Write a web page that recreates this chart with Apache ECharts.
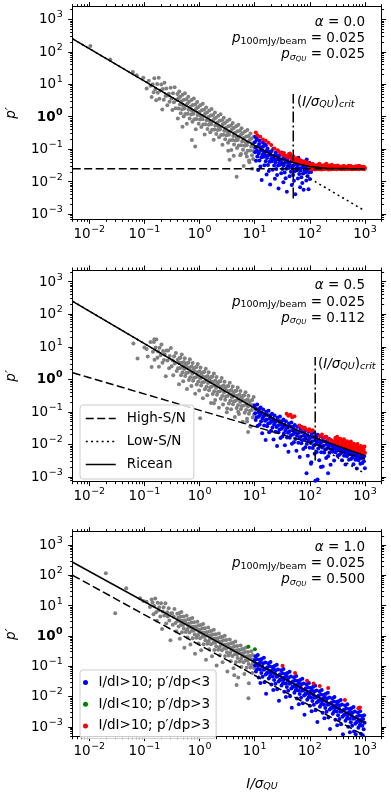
<!DOCTYPE html>
<html><head><meta charset="utf-8">
<script src="https://cdn.jsdelivr.net/npm/echarts@6/dist/echarts.min.js"></script>
<style>html,body{margin:0;padding:0;background:#fff}#c{width:391px;height:799px}</style>
</head><body><div id="c"></div><script>
// ================= DATA =================
const xTickExps = [-2,-1,0,1,2,3];
const yTickExps = [-3,-2,-1,0,1,2,3];
const alphaText = ['0.0','0.5','1.0'];
const pRefText = ['0.025','0.025','0.025'];
const pSigText = ['0.025','0.112','0.500'];
const legendLines = ['High-S/N','Low-S/N','Ricean'];
const legendPts = ['I/dI>10; p′/dp<3','I/dI<10; p′/dp>3','I/dI>10; p′/dp>3'];

// model curves: [I/sigma_QU, p']
const p1Ricean = [[0.005,250],[0.01,125],[0.1,12.5],[1,1.25],[3,0.42],[10,0.13],[20,0.068],[30,0.05],[50,0.039],[70,0.033],[100,0.029],[150,0.027],[200,0.026],[500,0.0252],[1000,0.025]];
const p1High = [[0.005,0.025],[1000,0.025]];
const p1Low = [[0.005,250],[1000,0.00125]];
const p1Crit = [[50,0.003],[50,5]];
const p2Ricean = [[0.005,250],[0.1,12.5],[1,1.25],[3,0.42],[10,0.13],[20,0.068],[30,0.047],[50,0.031],[100,0.0185],[200,0.0118],[300,0.0093],[500,0.0068],[1000,0.0045]];
const p2High = [[0.005,1.58],[1000,0.00354]];
const p2Low = [[0.005,250],[1000,0.00125]];
const p2Crit = [[125,0.0032],[125,4.8]];
const p3Ricean = [[0.005,270],[1000,0.00135]];
const p3High = [[0.005,100],[1000,0.0005]];

// scatter points: [log10(I/sigma_QU), log10(p')]
const p1GrayLog = [
[-1.98,2.18],[-1.62,1.76],[-1.21,1.38],[-1.14,1.28],[-1.02,1.2],[-0.96,0.87],[-0.92,1.11],[-0.87,0.61],[-0.89,0.95],
[-0.85,0.997],[-0.833,0.75],[-0.821,1.188],[-0.801,0.848],[-0.787,0.504],[-0.769,1.006],[-0.758,0.735],[-0.741,1.198],[-0.729,0.556],[-0.709,0.806],
[-0.695,0.992],[-0.677,0.224],[-0.666,0.853],[-0.649,0.526],[-0.637,1.044],[-0.617,0.634],[-0.603,0.87],[-0.585,0.352],[-0.574,0.651],[-0.557,0.704],
[-0.545,0.462],[-0.525,0.892],[-0.511,0.558],[-0.493,0.21],[-0.482,0.719],[-0.465,0.442],[-0.453,0.91],[-0.433,0.26],[-0.419,0.516],[-0.401,0.698],
[-0.395,-0.058],[-0.384,0.571],[-0.377,0.254],[-0.368,0.775],[-0.356,0.373],[-0.351,0.618],[-0.341,0.108],[-0.333,0.41],[-0.327,0.474],[-0.316,0.233],
[-0.309,0.676],[-0.3,0.347],[-0.288,0.005],[-0.283,0.52],[-0.273,0.25],[-0.265,0.722],[-0.259,0.086],[-0.248,0.345],[-0.241,0.538],[-0.232,-0.221],
[-0.22,0.407],[-0.215,0.092],[-0.205,0.612],[-0.197,0.214],[-0.191,0.458],[-0.18,-0.053],[-0.173,0.25],[-0.164,0.311],[-0.152,0.069],[-0.147,0.514],
[-0.137,0.184],[-0.129,-0.154],[-0.123,0.36],[-0.112,0.089],[-0.105,0.562],[-0.096,-0.077],[-0.084,0.181],[-0.079,0.376],[-0.069,-0.384],[-0.061,0.248],
[-0.055,-0.068],[-0.044,0.451],[-0.037,0.054],[-0.028,0.295],[-0.016,-0.217],[-0.011,0.088],[-0.001,0.148],[0.007,-0.09],[0.013,0.354],[0.024,0.023],
[0.031,-0.314],[0.04,0.197],[0.052,-0.075],[0.057,0.4],[0.067,-0.24],[0.075,0.022],[0.081,0.216],[0.092,-0.545],[0.099,0.088],[0.108,-0.231],
[0.12,0.287],[0.125,-0.108],[0.135,0.132],[0.143,-0.376],[0.149,-0.072],[0.16,-0.013],[0.167,-0.25],[0.176,0.191],[0.188,-0.141],[0.193,-0.476],
[0.203,0.034],[0.211,-0.234],[0.217,0.24],[0.228,-0.401],[0.235,-0.138],[0.244,0.053],[0.256,-0.709],[0.261,-0.074],[0.271,-0.394],[0.279,0.128],
[0.285,-0.268],[0.296,-0.029],[0.303,-0.536],[0.312,-0.235],[0.324,-0.177],[0.329,-0.412],[0.339,0.028],[0.347,-0.3],[0.353,-0.636],[0.364,-0.127],
[0.371,-0.394],[0.38,0.077],[0.392,-0.565],[0.397,-0.3],[0.407,-0.11],[0.415,-0.868],[0.421,-0.234],[0.432,-0.555],[0.439,-0.032],[0.448,-0.431],
[0.46,-0.193],[0.465,-0.698],[0.475,-0.398],[0.483,-0.336],[0.489,-0.572],[0.5,-0.133],[0.507,-0.46],[0.516,-0.799],[0.528,-0.291],[0.533,-0.556],
[0.543,-0.086],[0.551,-0.724],[0.557,-0.46],[0.568,-0.271],[0.575,-1.028],[0.584,-0.397],[0.596,-0.719],[0.601,-0.194],[0.611,-0.594],[0.619,-0.352],
[0.625,-0.858],[0.636,-0.559],[0.643,-0.496],[0.652,-0.735],[0.664,-0.297],[0.669,-0.622],[0.679,-0.962],[0.687,-0.45],[0.693,-0.716],[0.704,-0.247],
[0.711,-0.884],[0.72,-0.623],[0.732,-0.435],[0.737,-1.19],[0.747,-0.56],[0.755,-0.878],[0.761,-0.354],[0.772,-0.755],[0.779,-0.512],[0.788,-1.021],
[0.8,-0.723],[0.805,-0.658],[0.815,-0.898],[0.823,-0.456],[0.829,-0.782],[0.84,-1.123],[0.847,-0.61],[0.856,-0.879],[0.868,-0.411],[0.873,-1.046],
[0.883,-0.786],[0.891,-0.594],[0.897,-1.35],[0.908,-0.721],[0.915,-1.038],[0.924,-0.517],[0.936,-0.919],[0.941,-0.674],[0.951,-1.184],[0.959,-0.882],
[0.965,-0.818],[0.976,-1.059],[0.983,-0.616],[0.992,-0.945],
[-0.31,-0.31],[-0.14,-0.72],[-0.08,-0.92],[0.544,-1.33],[0.672,-1.85],[0.8,-1.52],[0.857,-1.23],[0.903,-1.4],[0.954,-1.6],[0.52,-1.05],[0.75,-1.15],[0.97,-1.3],[0.62,-1.2]
];
const p1BlueLog = [
[1,-0.786],[1.006,-1.092],[1.016,-0.951],[1.023,-1.358],[1.032,-0.716],[1.04,-1.044],[1.046,-1.229],[1.056,-0.919],[1.063,-1.645],[1.072,-1.134],
[1.08,-0.841],[1.086,-1.347],[1.096,-1.056],[1.103,-1.533],[1.112,-0.941],[1.12,-1.248],[1.126,-1.953],[1.136,-1.032],[1.143,-1.169],[1.152,-0.927],
[1.16,-1.234],[1.166,-1.089],[1.176,-1.498],[1.183,-0.855],[1.192,-1.183],[1.2,-1.37],[1.206,-1.055],[1.216,-1.784],[1.223,-1.271],[1.232,-0.979],
[1.24,-1.486],[1.246,-1.191],[1.256,-1.67],[1.263,-1.077],[1.272,-1.385],[1.28,-2.092],[1.286,-1.167],[1.296,-1.306],[1.303,-1.062],[1.312,-1.37],
[1.32,-1.226],[1.326,-1.631],[1.336,-0.989],[1.343,-1.314],[1.352,-1.502],[1.36,-1.188],[1.366,-1.913],[1.376,-1.401],[1.383,-1.106],[1.392,-1.614],
[1.4,-1.32],[1.406,-1.794],[1.416,-1.201],[1.423,-1.506],[1.432,-2.212],[1.44,-1.288],[1.446,-1.422],[1.456,-1.179],[1.463,-1.484],[1.472,-1.34],
[1.48,-1.746],[1.486,-1.1],[1.496,-1.427],[1.503,-1.612],[1.512,-1.297],[1.52,-2.022],[1.526,-1.506],[1.536,-1.212],[1.543,-1.716],[1.552,-1.421],
[1.56,-1.896],[1.566,-1.3],[1.576,-1.606],[1.583,-2.31],[1.592,-1.385],[1.6,-1.52],[1.606,-1.273],[1.616,-1.578],[1.623,-1.432],[1.632,-1.836],
[1.64,-1.19],[1.646,-1.513],[1.656,-1.698],[1.663,-1.382],[1.672,-2.106],[1.68,-1.59],[1.686,-1.293],[1.696,-1.798],[1.703,-1.501],[1.712,-1.975],
[1.72,-1.379],[1.726,-1.682],[1.736,-2.386],[1.743,-1.459],[1.752,-1.593],[1.76,-1.347],[1.766,-1.65],[1.776,-1.504],[1.783,-1.907],[1.792,-1.261],
[1.8,-1.585],[1.806,-1.767],[1.816,-1.451],[1.823,-2.174],[1.832,-1.658],[1.84,-1.361],[1.846,-1.863],[1.856,-1.567],[1.863,-2.04],[1.872,-1.444],
[1.88,-1.747],[1.886,-2.25],[1.896,-1.523],[1.903,-1.656],[1.912,-1.409],[1.92,-1.712],[1.926,-1.564],[1.936,-1.968],[1.943,-1.32],[1.952,-1.643],
[1.96,-1.826],[1.966,-1.508],[1.976,-2.232],[1.983,-1.714],[1.992,-1.417],[2,-1.92],[2.01,-1.622],[2.022,-1.7],
[1.01,-0.62],[1.04,-0.66],[1.09,-0.74],[1.15,-0.8],[1.2,-0.88]
];
const p1RedLog = [
[1.02,-0.49],[1.05,-0.57],[1.1,-0.62],[1.15,-0.7],[1.2,-0.74],[1.25,-0.8],[1.3,-0.87],[1.36,-0.98],[1.42,-1.03],[1.46,-1.1],[1.5,-1.17],
[1.53,-1.12],[1.56,-1.2],[1.6,-1.25],[1.62,-1.15],[1.64,-1.13],[1.66,-1.27],[1.68,-1.3],[1.7,-1.22],[1.72,-1.33],[1.74,-1.36],[1.76,-1.28],
[1.78,-1.3],[1.8,-1.4],[1.82,-1.34],[1.83,-1.35],[1.86,-1.44],[1.88,-1.38],[1.9,-1.38],[1.93,-1.47],[1.95,-1.4],[1.96,-1.42],[1.98,-1.45],
[2,-1.55],[2.011,-1.62],[2.025,-1.48],[2.034,-1.58],[2.05,-1.45],[2.062,-1.6],[2.073,-1.52],[2.087,-1.63],[2.096,-1.5],[2.112,-1.57],
[2.124,-1.55],[2.135,-1.62],[2.149,-1.48],[2.158,-1.58],[2.174,-1.45],[2.186,-1.6],[2.197,-1.52],[2.211,-1.63],[2.22,-1.5],[2.236,-1.57],
[2.248,-1.55],[2.259,-1.62],[2.273,-1.48],[2.282,-1.58],[2.298,-1.45],[2.31,-1.6],[2.321,-1.52],[2.335,-1.63],[2.344,-1.5],[2.36,-1.57],
[2.372,-1.55],[2.383,-1.62],[2.397,-1.48],[2.406,-1.57],[2.422,-1.61],[2.434,-1.54],[2.445,-1.6],[2.459,-1.58],[2.468,-1.52],[2.484,-1.62],
[2.496,-1.56],[2.507,-1.59],[2.521,-1.55],[2.53,-1.6],[2.546,-1.57],[2.558,-1.61],[2.569,-1.54],[2.583,-1.6],[2.592,-1.58],[2.608,-1.52],
[2.62,-1.62],[2.631,-1.56],[2.645,-1.59],[2.654,-1.55],[2.67,-1.6],[2.682,-1.57],[2.693,-1.61],[2.707,-1.54],[2.716,-1.6],[2.732,-1.58],
[2.744,-1.52],[2.755,-1.62],[2.769,-1.56],[2.778,-1.59],[2.794,-1.55],[2.806,-1.6],[2.817,-1.57],[2.831,-1.61],[2.84,-1.54],[2.856,-1.6],
[2.868,-1.58],[2.879,-1.52],[2.893,-1.62],[2.902,-1.56],[2.918,-1.59],[2.93,-1.55],[2.941,-1.6],[2.955,-1.57],[2.964,-1.61],[2.98,-1.54],
[2.992,-1.6],[3,-1.58],
[2.005,-1.59],[2.03,-1.53],[2.055,-1.61],[2.08,-1.56],[2.105,-1.5],[2.13,-1.58],[2.155,-1.54],[2.18,-1.62],[2.205,-1.59],[2.23,-1.53],
[2.255,-1.61],[2.28,-1.56],[2.305,-1.5],[2.33,-1.58],[2.355,-1.54],[2.38,-1.62],[2.405,-1.59],[2.43,-1.53],[2.455,-1.61],[2.48,-1.56],
[2.505,-1.5],[2.53,-1.58],[2.555,-1.54],[2.58,-1.62],[2.605,-1.59],[2.63,-1.53],[2.655,-1.61],[2.68,-1.56],[2.705,-1.51],[2.73,-1.58],
[2.755,-1.54],[2.78,-1.62],[2.805,-1.59],[2.83,-1.53],[2.855,-1.61],[2.88,-1.56],[2.905,-1.52],[2.93,-1.58],[2.955,-1.54],[2.98,-1.62]
];

const p2GrayLog = [
[-1.2,1.1],[-1.125,0.64],[-1.0,0.98],[-0.96,0.93],[-0.94,0.7],[-0.89,1.15],[-0.87,0.38],[-0.82,1.23],
[-0.846,0.843],[-0.829,1.146],[-0.817,0.604],[-0.797,0.974],[-0.783,1.22],[-0.765,0.662],[-0.754,0.851],[-0.737,0.384],[-0.725,0.972],[-0.705,0.742],
[-0.691,1.068],[-0.673,0.51],[-0.662,0.869],[-0.645,0.592],[-0.633,0.77],[-0.613,0.09],[-0.599,0.886],[-0.581,0.578],[-0.57,0.887],[-0.553,0.34],
[-0.541,0.718],[-0.521,0.958],[-0.507,0.404],[-0.489,0.586],[-0.478,0.125],[-0.461,0.708],[-0.449,0.486],[-0.429,0.806],[-0.415,0.252],[-0.397,0.604],
[-0.391,0.338],[-0.38,0.517],[-0.373,-0.15],[-0.364,0.651],[-0.352,0.349],[-0.347,0.664],[-0.337,0.124],[-0.329,0.506],[-0.323,0.76],[-0.312,0.209],
[-0.305,0.402],[-0.296,-0.057],[-0.284,0.531],[-0.279,0.316],[-0.269,0.646],[-0.261,0.098],[-0.255,0.462],[-0.244,0.191],[-0.237,0.374],[-0.228,-0.295],
[-0.216,0.503],[-0.211,0.208],[-0.201,0.518],[-0.193,-0.02],[-0.187,0.364],[-0.176,0.613],[-0.169,0.066],[-0.16,0.257],[-0.148,-0.205],[-0.143,0.39],
[-0.133,0.17],[-0.125,0.502],[-0.119,-0.044],[-0.108,0.315],[-0.101,0.048],[-0.092,0.229],[-0.08,-0.443],[-0.075,0.362],[-0.065,0.062],[-0.057,0.374],
[-0.051,-0.162],[-0.04,0.217],[-0.033,0.47],[-0.024,-0.079],[-0.012,0.109],[-0.007,-0.346],[0.003,0.244],[0.011,0.026],[0.017,0.36],[0.028,-0.191],
[0.035,0.172],[0.044,-0.097],[0.056,0.081],[0.061,-0.584],[0.071,0.216],[0.079,-0.082],[0.085,0.232],[0.096,-0.309],[0.103,0.074],[0.112,0.325],
[0.124,-0.227],[0.129,-0.032],[0.139,-0.492],[0.147,0.1],[0.153,-0.116],[0.164,0.213],[0.171,-0.334],[0.18,0.027],[0.192,-0.245],[0.197,-0.06],
[0.207,-0.73],[0.215,0.072],[0.221,-0.224],[0.232,0.085],[0.239,-0.452],[0.248,-0.071],[0.26,0.177],[0.265,-0.368],[0.275,-0.178],[0.283,-0.636],
[0.289,-0.042],[0.3,-0.263],[0.307,0.07],[0.316,-0.479],[0.328,-0.121],[0.333,-0.386],[0.343,-0.206],[0.351,-0.874],[0.357,-0.07],[0.368,-0.371],
[0.375,-0.058],[0.384,-0.597],[0.396,-0.219],[0.401,0.036],[0.411,-0.514],[0.419,-0.322],[0.425,-0.778],[0.436,-0.189],[0.443,-0.406],[0.452,-0.075],
[0.464,-0.627],[0.469,-0.262],[0.479,-0.532],[0.487,-0.35],[0.493,-1.016],[0.504,-0.217],[0.511,-0.514],[0.52,-0.203],[0.532,-0.745],[0.537,-0.36],
[0.547,-0.11],[0.555,-0.658],[0.561,-0.464],[0.572,-0.925],[0.579,-0.332],[0.588,-0.551],[0.6,-0.223],[0.605,-0.768],[0.615,-0.408],[0.623,-0.676],
[0.629,-0.492],[0.64,-1.163],[0.647,-0.36],[0.656,-0.659],[0.668,-0.351],[0.673,-0.886],[0.683,-0.506],[0.691,-0.254],[0.697,-0.8],[0.708,-0.611],
[0.715,-1.068],[0.724,-0.477],[0.736,-0.699],[0.741,-0.364],[0.751,-0.914],[0.759,-0.552],[0.765,-0.818],[0.776,-0.639],[0.783,-1.306],[0.792,-0.505],
[0.804,-0.807],[0.809,-0.492],[0.819,-1.032],[0.827,-0.65],[0.833,-0.396],[0.844,-0.947],[0.851,-0.754],[0.86,-1.213],[0.872,-0.625],[0.877,-0.84],
[0.887,-0.51],[0.895,-1.058],[0.901,-0.694],[0.912,-0.965],[0.919,-0.782],[0.928,-1.451],[0.94,-0.653],[0.945,-0.948],[0.955,-0.638],[0.963,-1.176],
[0.969,-0.792],[0.98,-0.543],[0.987,-1.09],[0.996,-0.899],
[0.01,-1.2],[0.88,-1.62],[0.86,-1.3],[0.92,-1.45],[0.5,-0.9],[0.26,-0.74],[0.7,-1.0]
];
const p2BlueLog = [
[1,-0.806],[1.007,-1.043],[1.018,-1.253],[1.026,-0.91],[1.036,-1.17],[1.045,-0.778],[1.052,-1.435],[1.063,-1.025],[1.071,-1.153],[1.081,-0.912],
[1.09,-1.391],[1.097,-1.097],[1.108,-0.867],[1.116,-1.294],[1.126,-1.033],[1.135,-1.662],[1.142,-1.198],[1.153,-0.928],[1.161,-1.135],[1.171,-1.424],
[1.18,-1.102],[1.187,-1.278],[1.198,-1.868],[1.206,-0.996],[1.216,-1.235],[1.225,-1.444],[1.232,-1.1],[1.243,-1.361],[1.251,-0.968],[1.261,-1.628],
[1.27,-1.217],[1.277,-1.343],[1.288,-1.104],[1.296,-1.581],[1.306,-1.29],[1.315,-1.058],[1.322,-1.484],[1.333,-1.223],[1.341,-1.85],[1.351,-1.388],
[1.36,-1.116],[1.367,-1.322],[1.378,-1.611],[1.386,-1.288],[1.396,-1.467],[1.405,-2.054],[1.412,-1.18],[1.423,-1.42],[1.431,-1.626],[1.441,-1.285],
[1.45,-1.543],[1.457,-1.148],[1.468,-1.808],[1.476,-1.395],[1.486,-1.523],[1.495,-1.281],[1.502,-1.757],[1.513,-1.466],[1.521,-1.233],[1.531,-1.661],
[1.54,-1.399],[1.547,-2.025],[1.558,-1.564],[1.566,-1.291],[1.576,-1.5],[1.585,-1.787],[1.592,-1.463],[1.603,-1.643],[1.611,-2.229],[1.621,-1.358],
[1.63,-1.596],[1.637,-1.801],[1.648,-1.461],[1.656,-1.718],[1.666,-1.326],[1.675,-1.984],[1.682,-1.57],[1.693,-1.699],[1.701,-1.456],[1.711,-1.933],
[1.72,-1.64],[1.727,-1.405],[1.738,-1.834],[1.746,-1.57],[1.756,-2.197],[1.765,-1.734],[1.772,-1.459],[1.783,-1.667],[1.791,-1.953],[1.801,-1.631],
[1.81,-1.808],[1.817,-2.393],[1.828,-1.521],[1.836,-1.757],[1.846,-1.965],[1.855,-1.621],[1.862,-1.877],[1.873,-1.485],[1.881,-2.141],[1.891,-1.728],
[1.9,-1.855],[1.907,-1.61],[1.918,-2.089],[1.926,-1.795],[1.936,-1.562],[1.945,-1.989],[1.952,-1.724],[1.963,-2.352],[1.971,-1.888],[1.981,-1.616],
[1.99,-1.823],[1.997,-2.108],[2.008,-1.785],[2.016,-1.961],[2.026,-2.547],[2.035,-1.673],[2.042,-1.908],[2.053,-2.116],[2.061,-1.771],[2.071,-2.028],
[2.08,-1.634],[2.087,-2.288],[2.098,-1.876],[2.106,-2.001],[2.116,-1.757],[2.125,-2.233],[2.132,-1.937],[2.143,-1.704],[2.151,-2.129],[2.161,-1.865],
[2.17,-2.491],[2.177,-2.025],[2.188,-1.752],[2.196,-1.957],[2.206,-2.244],[2.215,-1.92],[2.222,-2.094],[2.233,-2.681],[2.241,-1.807],[2.251,-2.043],
[2.26,-2.249],[2.267,-1.904],[2.278,-2.161],[2.286,-1.766],[2.296,-2.422],[2.305,-2.008],[2.312,-2.133],[2.323,-1.89],[2.331,-2.365],[2.341,-2.072],
[2.35,-1.838],[2.357,-2.262],[2.368,-1.999],[2.376,-2.624],[2.386,-2.161],[2.395,-1.887],[2.402,-2.051],[2.413,-2.228],[2.421,-2.033],[2.431,-2.139],
[2.44,-2.494],[2.447,-1.968],[2.458,-2.115],[2.466,-2.24],[2.476,-2.036],[2.485,-2.191],[2.492,-1.955],[2.503,-2.352],[2.511,-2.107],[2.521,-2.183],
[2.53,-2.038],[2.537,-2.322],[2.548,-2.149],[2.556,-2.014],[2.566,-2.27],[2.575,-2.115],[2.582,-2.489],[2.593,-2.216],[2.601,-2.051],[2.611,-2.177],
[2.62,-2.352],[2.627,-2.156],[2.638,-2.263],[2.646,-2.618],[2.656,-2.094],[2.665,-2.239],[2.672,-2.363],[2.683,-2.16],[2.691,-2.315],[2.701,-2.081],
[2.71,-2.476],[2.717,-2.23],[2.728,-2.307],[2.736,-2.162],[2.746,-2.448],[2.755,-2.273],[2.762,-2.137],[2.773,-2.394],[2.781,-2.239],[2.791,-2.615],
[2.8,-2.34],[2.807,-2.174],[2.818,-2.301],[2.826,-2.476],[2.836,-2.282],[2.845,-2.387],[2.852,-2.741],[2.863,-2.218],[2.871,-2.363],[2.881,-2.489],
[2.89,-2.284],[2.897,-2.438],[2.908,-2.205],[2.916,-2.6],[2.926,-2.356],[2.935,-2.431],[2.942,-2.285],[2.953,-2.572],[2.961,-2.397],[2.971,-2.263],
[2.98,-2.518],[2.987,-2.362],[2.998,-2.739],
[1.94,-2.89],[2.1,-3.12],[2.14,-3.08],[2.33,-2.89],[2.2,-2.7],[2.02,-2.6]
];
const p2RedLog = [
[1.58,-1.06],[1.61,-1.12],[1.65,-1.09],[1.68,-1.17],[1.72,-1.14],[1.81,-1.42],[1.85,-1.47],[1.88,-1.52],[1.91,-1.49],[1.95,-1.57],
[1.99,-1.54],[2.02,-1.6],[2.05,-1.57],[2.18,-1.74],[2.22,-1.7],[2.26,-1.8],[2.3,-1.77],[2.34,-1.85],[2.38,-1.87],[2.41,-1.92],
[2.45,-1.9],[2.461,-1.807],[2.474,-1.974],[2.483,-1.87],[2.495,-1.767],[2.506,-1.964],[2.519,-1.921],[2.528,-1.867],[2.54,-2.034],[2.551,-1.831],
[2.564,-1.988],[2.573,-1.974],[2.585,-1.881],[2.596,-2.048],[2.609,-1.945],[2.618,-1.841],[2.63,-2.038],[2.641,-1.995],[2.654,-1.942],[2.663,-2.108],
[2.675,-1.905],[2.686,-2.062],[2.699,-2.049],[2.708,-1.955],[2.72,-2.122],[2.731,-2.019],[2.744,-1.916],[2.753,-2.112],[2.765,-2.069],[2.776,-2.016],
[2.789,-2.183],[2.798,-1.979],[2.81,-2.136],[2.821,-2.123],[2.834,-2.03],[2.843,-2.196],[2.855,-2.093],[2.866,-1.99],[2.879,-2.187],[2.888,-2.143],
[2.9,-2.09],[2.911,-2.257],[2.924,-2.054],[2.933,-2.21],[2.945,-2.197],[2.956,-2.104],[2.969,-2.271],[2.978,-2.167],[2.99,-2.064],[3,-2.26]
];

const p3GrayLog = [
[-1.7,2.07],[-1.53,0.75],[-1.33,1.57],[-1.08,1.24],[-1.02,1.15],[-0.96,1.13],[-0.9,0.95],[-0.87,1.2],
[-0.853,1.103],[-0.836,0.716],[-0.824,0.984],[-0.804,1.234],[-0.79,0.78],[-0.772,0.502],[-0.761,1.091],[-0.744,0.844],[-0.732,0.942],[-0.712,0.642],
[-0.698,1.078],[-0.68,0.23],[-0.669,0.809],[-0.652,0.942],[-0.64,0.67],[-0.62,1.08],[-0.606,0.406],[-0.588,0.778],[-0.577,0.637],[-0.56,0.91],
[-0.548,0.508],[-0.528,-0.142],[-0.514,0.744],[-0.496,0.746],[-0.485,0.365],[-0.468,0.628],[-0.456,0.886],[-0.436,0.426],[-0.422,0.152],[-0.404,0.734],
[-0.398,0.498],[-0.387,0.597],[-0.38,0.31],[-0.371,0.751],[-0.359,-0.091],[-0.354,0.494],[-0.344,0.634],[-0.336,0.366],[-0.33,0.79],[-0.319,0.119],
[-0.312,0.502],[-0.303,0.363],[-0.291,0.641],[-0.286,0.246],[-0.276,-0.394],[-0.268,0.498],[-0.262,0.512],[-0.251,0.131],[-0.244,0.404],[-0.235,0.665],
[-0.223,0.213],[-0.218,-0.052],[-0.208,0.538],[-0.2,0.3],[-0.194,0.404],[-0.183,0.113],[-0.176,0.556],[-0.167,-0.283],[-0.155,0.295],[-0.15,0.44],
[-0.14,0.17],[-0.132,0.592],[-0.126,-0.074],[-0.115,0.305],[-0.108,0.168],[-0.099,0.449],[-0.087,0.047],[-0.082,-0.588],[-0.072,0.302],[-0.064,0.314],
[-0.058,-0.062],[-0.047,0.207],[-0.04,0.47],[-0.031,0.021],[-0.019,-0.251],[-0.014,0.344],[-0.004,0.104],[0.004,0.206],[0.01,-0.08],[0.021,0.359],
[0.028,-0.478],[0.037,0.103],[0.049,0.241],[0.054,-0.024],[0.064,0.396],[0.072,-0.272],[0.078,0.112],[0.089,-0.029],[0.096,0.254],[0.105,-0.145],
[0.117,-0.787],[0.122,0.108],[0.132,0.118],[0.14,-0.26],[0.146,0.014],[0.157,0.273],[0.164,-0.174],[0.173,-0.443],[0.185,0.145],[0.19,-0.09],
[0.2,0.01],[0.208,-0.278],[0.214,0.166],[0.225,-0.675],[0.232,-0.092],[0.241,0.049],[0.253,-0.223],[0.258,0.202],[0.268,-0.468],[0.276,-0.086],
[0.282,-0.222],[0.293,0.057],[0.3,-0.34],[0.309,-0.979],[0.321,-0.091],[0.326,-0.076],[0.336,-0.456],[0.344,-0.184],[0.35,0.08],[0.361,-0.371],
[0.368,-0.638],[0.377,-0.047],[0.389,-0.289],[0.394,-0.184],[0.404,-0.474],[0.412,-0.032],[0.418,-0.868],[0.429,-0.289],[0.436,-0.146],[0.445,-0.415],
[0.457,0.003],[0.462,-0.662],[0.472,-0.282],[0.48,-0.42],[0.486,-0.136],[0.497,-0.537],[0.504,-1.174],[0.513,-0.283],[0.525,-0.275],[0.53,-0.65],
[0.54,-0.38],[0.548,-0.118],[0.554,-0.564],[0.565,-0.835],[0.572,-0.242],[0.581,-0.481],[0.593,-0.383],[0.598,-0.668],[0.608,-0.228],[0.616,-1.066],
[0.622,-0.482],[0.633,-0.343],[0.64,-0.61],[0.649,-0.189],[0.661,-0.861],[0.666,-0.476],[0.676,-0.616],[0.684,-0.334],[0.69,-0.73],[0.701,-1.371],
[0.708,-0.478],[0.717,-0.467],[0.729,-0.849],[0.734,-0.574],[0.744,-0.314],[0.752,-0.762],[0.758,-1.028],[0.769,-0.439],[0.776,-0.676],[0.785,-0.575],
[0.797,-0.867],[0.802,-0.422],[0.812,-1.262],[0.82,-0.68],[0.826,-0.536],[0.837,-0.807],[0.844,-0.384],[0.853,-1.053],[0.865,-0.675],[0.87,-0.81],
[0.88,-0.53],[0.888,-0.928],[0.894,-1.564],[0.905,-0.675],[0.912,-0.662],[0.921,-1.041],[0.933,-0.773],[0.938,-0.508],[0.948,-0.958],[0.956,-1.226],
[0.962,-0.632],[0.973,-0.873],[0.98,-0.77],[0.989,-1.059],
[0.672,-1.62],[0.886,-2.06],[0.63,-1.3]
];
const p3BlueLog = [
[1,-0.804],[1.006,-0.98],[1.016,-0.67],[1.023,-1.177],[1.032,-0.926],[1.04,-0.774],[1.046,-1.1],[1.056,-0.63],[1.063,-0.997],[1.072,-1.376],
[1.08,-0.914],[1.086,-0.79],[1.096,-1.11],[1.103,-1.557],[1.112,-0.886],[1.12,-1.224],[1.126,-0.76],[1.136,-1.01],[1.143,-1.347],[1.152,-0.906],
[1.16,-1.114],[1.166,-0.72],[1.176,-1.53],[1.183,-1.097],[1.192,-0.876],[1.2,-1.274],[1.206,-1.91],[1.216,-1.07],[1.223,-1.217],[1.232,-1.036],
[1.24,-1.214],[1.246,-0.9],[1.256,-1.41],[1.263,-1.157],[1.272,-1.006],[1.28,-1.334],[1.286,-0.86],[1.296,-1.23],[1.303,-1.607],[1.312,-1.146],
[1.32,-1.024],[1.326,-1.34],[1.336,-1.79],[1.343,-1.117],[1.352,-1.456],[1.36,-0.994],[1.366,-1.24],[1.376,-1.58],[1.383,-1.137],[1.392,-1.346],
[1.4,-0.954],[1.406,-1.76],[1.416,-1.33],[1.423,-1.107],[1.432,-1.506],[1.44,-2.144],[1.446,-1.3],[1.456,-1.45],[1.463,-1.267],[1.472,-1.446],
[1.48,-1.134],[1.486,-1.64],[1.496,-1.39],[1.503,-1.237],[1.512,-1.566],[1.52,-1.094],[1.526,-1.46],[1.536,-1.84],[1.543,-1.377],[1.552,-1.256],
[1.56,-1.574],[1.566,-2.02],[1.576,-1.35],[1.583,-1.687],[1.592,-1.226],[1.6,-1.474],[1.606,-1.81],[1.616,-1.37],[1.623,-1.577],[1.632,-1.186],
[1.64,-1.994],[1.646,-1.56],[1.656,-1.34],[1.663,-1.737],[1.672,-2.376],[1.68,-1.534],[1.686,-1.68],[1.696,-1.5],[1.703,-1.677],[1.712,-1.366],
[1.72,-1.874],[1.726,-1.62],[1.736,-1.47],[1.743,-1.797],[1.752,-1.326],[1.76,-1.694],[1.766,-2.07],[1.776,-1.61],[1.783,-1.487],[1.792,-1.806],
[1.8,-2.254],[1.806,-1.58],[1.816,-1.92],[1.823,-1.457],[1.832,-1.706],[1.84,-2.044],[1.846,-1.6],[1.856,-1.81],[1.863,-1.417],[1.872,-2.226],
[1.88,-1.794],[1.886,-1.57],[1.896,-1.97],[1.903,-2.607],[1.912,-1.766],[1.92,-1.914],[1.926,-1.73],[1.936,-1.91],[1.943,-1.597],[1.952,-2.106],
[1.96,-1.854],[1.966,-1.7],[1.976,-2.03],[1.983,-1.557],[1.992,-1.926],[2,-2.304],[2.006,-1.84],[2.016,-1.72],[2.023,-2.037],[2.032,-2.486],
[2.04,-1.814],[2.046,-2.15],[2.056,-1.69],[2.063,-1.937],[2.072,-2.276],[2.08,-1.834],[2.086,-2.04],[2.096,-1.65],[2.103,-2.457],[2.112,-2.026],
[2.12,-1.804],[2.126,-2.2],[2.136,-2.84],[2.143,-1.997],[2.152,-2.146],[2.16,-1.964],[2.166,-2.14],[2.176,-1.83],[2.183,-2.337],[2.192,-2.086],
[2.2,-1.934],[2.206,-2.26],[2.216,-1.79],[2.223,-2.157],[2.232,-2.536],[2.24,-2.074],[2.246,-1.95],[2.256,-2.27],[2.263,-2.717],[2.272,-2.046],
[2.28,-2.384],[2.286,-1.92],[2.296,-2.17],[2.303,-2.507],[2.312,-2.066],[2.32,-2.274],[2.326,-1.88],[2.336,-2.69],[2.343,-2.257],[2.352,-2.036],
[2.36,-2.434],[2.366,-3.07],[2.376,-2.23],[2.383,-2.377],[2.392,-2.196],[2.4,-2.374],[2.406,-2.06],[2.416,-2.57],[2.423,-2.317],[2.432,-2.166],
[2.44,-2.494],[2.446,-2.02],[2.456,-2.39],[2.463,-2.767],[2.472,-2.306],[2.48,-2.184],[2.486,-2.5],[2.496,-2.95],[2.503,-2.277],[2.512,-2.616],
[2.52,-2.154],[2.526,-2.4],[2.536,-2.74],[2.543,-2.297],[2.552,-2.506],[2.56,-2.114],[2.566,-2.92],[2.576,-2.49],[2.583,-2.267],[2.592,-2.666],
[2.6,-3.25],[2.606,-2.46],[2.616,-2.61],[2.623,-2.427],[2.632,-2.606],[2.64,-2.294],[2.646,-2.8],[2.656,-2.55],[2.663,-2.397],[2.672,-2.726],
[2.68,-2.254],[2.686,-2.62],[2.696,-3.0],[2.703,-2.537],[2.712,-2.416],[2.72,-2.734],[2.726,-3.18],[2.736,-2.51],[2.743,-2.847],[2.752,-2.386],
[2.76,-2.634],[2.766,-2.97],[2.776,-2.53],[2.783,-2.737],[2.792,-2.346],[2.8,-3.154],[2.806,-2.72],[2.816,-2.5],[2.823,-2.897],[2.832,-3.25],
[2.84,-2.694],[2.846,-2.84],[2.856,-2.66],[2.863,-2.837],[2.872,-2.526],[2.88,-3.034],[2.886,-2.78],[2.896,-2.63],[2.903,-2.957],[2.912,-2.486],
[2.92,-2.854],[2.926,-3.23],[2.936,-2.77],[2.943,-2.647],[2.952,-2.966],[2.96,-3.28],[2.966,-2.74],[2.976,-3.08],[2.983,-2.617],[2.992,-2.866]
];
const p3GreenLog = [[0.886,-0.357],[1.004,-0.444]];
const p3RedLog = [[1.505,-0.983],[1.732,-1.229],[1.949,-1.481],[2.068,-1.569],[2.179,-1.658],[2.332,-1.721],[2.636,-2.119],[2.881,-2.387],[2.908,-2.367]];

// ================= LAYOUT =================
const X_LIM = [0.005, 2000];
const Y_LIMS = [[0.00069, 2450],[0.00071, 2290],[0.00047, 2750]];
const GRIDS = [{top:6.7,h:212.6},{top:270,h:211.7},{top:531.7,h:205}];
const GL = 72.7, GW = 308.9;
const FONT = 'DejaVu Sans';

const lg = Math.log10;
const L = d => d.map(([x,y]) => [lg(x), lg(y)]);
function minorTicks(a, b) {
  const out = [];
  for (let n = -4; n <= 4; n++) for (let k = 2; k <= 9; k++) {
    const v = n + lg(k);
    if (v >= a - 1e-9 && v <= b + 1e-9) out.push(v);
  }
  return out;
}
const sup = n => (n < 0 ? '\u2212' : '') + Math.abs(n);
const tickRich = {
  b: {fontFamily: FONT, fontSize: 13.5, color: '#000', lineHeight: 19, verticalAlign: 'top', padding: [3,0,0,0]},
  s: {fontFamily: FONT, fontSize: 9.5, color: '#000', lineHeight: 19, verticalAlign: 'top', padding: [0,0,0,0.5]},
  bb: {fontFamily: FONT, fontSize: 13.5, fontWeight: 'bold', color: '#000', lineHeight: 19, verticalAlign: 'top', padding: [3,0,0,0]},
  sb: {fontFamily: FONT, fontSize: 9.5, fontWeight: 'bold', color: '#000', lineHeight: 19, verticalAlign: 'top', padding: [0,0,0,0.5]}
};
const tickFmt = boldZero => v => {
  const n = Math.round(v);
  if (boldZero && n === 0) return '{bb|10}{sb|0}';
  return '{b|10}{s|' + sup(n) + '}';
};

const xAxes = [], yAxes = [], grids = [], series = [], graphics = [];
const LX = [lg(X_LIM[0]), lg(X_LIM[1])];
const minX = minorTicks(LX[0], LX[1]);

GRIDS.forEach((G, g) => {
  grids.push({left: GL, top: G.top, width: GW, height: G.h, show: false});
  const LY = [lg(Y_LIMS[g][0]), lg(Y_LIMS[g][1])];
  const minY = minorTicks(LY[0], LY[1]);
  const ax = (min, max, pos, ticks, len, line, lab, isY) => ({
    type: 'value', gridIndex: g, position: pos, min, max,
    axisLine: {show: line, onZero: false, lineStyle: {color: '#000', width: 1}},
    axisTick: {show: true, inside: false, length: len, customValues: ticks, lineStyle: {color: '#000', width: 1}},
    axisLabel: lab ? {show: true, customValues: isY ? yTickExps : xTickExps, margin: isY ? 10 : 5,
      formatter: tickFmt(isY), rich: tickRich} : {show: false},
    splitLine: {show: false}
  });
  xAxes.push(ax(LX[0], LX[1], 'bottom', xTickExps, 4.5, true, true, false));
  xAxes.push(ax(LX[0], LX[1], 'bottom', minX, 2.5, false, false, false));
  xAxes.push(ax(LX[0], LX[1], 'top', xTickExps, 4.5, true, false, false));
  xAxes.push(ax(LX[0], LX[1], 'top', minX, 2.5, false, false, false));
  yAxes.push(ax(LY[0], LY[1], 'left', yTickExps, 4.5, true, true, true));
  yAxes.push(ax(LY[0], LY[1], 'left', minY, 2.5, false, false, true));
  yAxes.push(ax(LY[0], LY[1], 'right', yTickExps, 4.5, true, false, true));
  yAxes.push(ax(LY[0], LY[1], 'right', minY, 2.5, false, false, true));
});

const panels = [
  {gray: p1GrayLog, blue: p1BlueLog, red: p1RedLog, green: null, ricean: p1Ricean, high: p1High, low: p1Low, crit: p1Crit},
  {gray: p2GrayLog, blue: p2BlueLog, red: p2RedLog, green: null, ricean: p2Ricean, high: p2High, low: p2Low, crit: p2Crit},
  {gray: p3GrayLog, blue: p3BlueLog, red: p3RedLog, green: p3GreenLog, ricean: p3Ricean, high: p3High, low: null, crit: null}
];
panels.forEach((p, g) => {
  const ai = g * 4;
  const sc = (name, data, color, z) => ({type: 'scatter', name, xAxisIndex: ai, yAxisIndex: ai, data,
    symbol: 'circle', symbolSize: 4, itemStyle: {color, opacity: 1}, z, silent: true});
  const ln = (name, data, type, z) => ({type: 'line', name, xAxisIndex: ai, yAxisIndex: ai, data: L(data),
    symbol: 'none', showSymbol: false, lineStyle: {color: '#000', width: 1.5, type, cap: 'butt'}, itemStyle: {color: '#000'}, z, silent: true});
  series.push(sc('gray', p.gray, '#808080', 2));
  series.push(sc(legendPts[0], p.blue, '#0000ff', 3));
  if (p.green) series.push(sc(legendPts[1], p.green, '#008000', 3));
  series.push(sc(legendPts[2], p.red, '#ff0000', 4));
  if (p.low) series.push(ln(legendLines[1], p.low, [2, 3.3], 5));
  series.push(ln(legendLines[0], p.high, [8, 3.5], 6));
  series.push(ln(legendLines[2], p.ricean, 'solid', 7));
  if (p.crit) series.push(ln('crit', p.crit, [11, 3, 2, 3], 6));
});

// texts
const R = {
  n: {fontFamily: FONT, fontSize: 13.5, fill: '#000', lineHeight: 20, verticalAlign: 'top', padding: [2,0,0,0]},
  i: {fontFamily: FONT, fontStyle: 'italic', fontSize: 13.5, fill: '#000', lineHeight: 20, verticalAlign: 'top', padding: [2,0,0,0]},
  s: {fontFamily: FONT, fontSize: 9.5, fill: '#000', lineHeight: 20, verticalAlign: 'top', padding: [6.5,0,0,0]},
  si: {fontFamily: FONT, fontStyle: 'italic', fontSize: 9.5, fill: '#000', lineHeight: 20, verticalAlign: 'top', padding: [6.5,0,0,0]},
  ss: {fontFamily: FONT, fontStyle: 'italic', fontSize: 7, fill: '#000', lineHeight: 20, verticalAlign: 'top', padding: [10,0,0,0]}
};
const txt = (x, y, text, align) => ({type: 'text', x, y, z: 50,
  style: {text, rich: R, align: align || 'left', verticalAlign: 'middle', fill: '#000'}});
GRIDS.forEach((G, g) => {
  const T = G.top;
  graphics.push(txt(365, T + 16.5, '{i|α}{n| = ' + alphaText[g] + '}', 'right'));
  graphics.push(txt(365, T + 33, '{i|p}{s|100mJy/beam}{n| = ' + pRefText[g] + '}', 'right'));
  graphics.push(txt(365, T + 49, '{i|p}{si|σ}{ss|QU}{n| = ' + pSigText[g] + '}', 'right'));
  graphics.push({type: 'text', x: 11, y: T + G.h / 2, rotation: Math.PI / 2, z: 50,
    style: {text: 'p′', font: 'italic 13.5px "DejaVu Sans"', fill: '#000', align: 'center', verticalAlign: 'middle'}});
});
graphics.push(txt(297, 103, '{n|(}{i|I/σ}{si|QU}{n|)}{si|crit}', 'left'));
graphics.push(txt(318, 365, '{n|(}{i|I/σ}{si|QU}{n|)}{si|crit}', 'left'));
graphics.push(txt(262, 785, '{i|I/σ}{si|QU}', 'center'));

const legendBase = {
  orient: 'vertical', backgroundColor: 'rgba(255,255,255,0.8)', borderColor: '#cccccc', borderWidth: 1, borderRadius: 3,
  selectedMode: false, z: 20,
  textStyle: {fontFamily: FONT, fontSize: 13.5, color: '#000', lineHeight: 15}
};
const option = {
  animation: false,
  textStyle: {fontFamily: FONT},
  grid: grids, xAxis: xAxes, yAxis: yAxes, series, graphic: graphics,
  legend: [
    Object.assign({}, legendBase, {data: legendLines, left: 80, top: 405, itemWidth: 30, itemHeight: 14, itemGap: 8,
      itemStyle: {opacity: 0}, lineStyle: {width: 1.5},
      padding: [6, 8, 7, 5], textStyle: Object.assign({}, legendBase.textStyle, {padding: [0,0,0,6]})}),
    Object.assign({}, legendBase, {data: legendPts.map(n => ({name: n, icon: 'circle'})), left: 80, top: 670,
      itemWidth: 12, itemHeight: 5, itemGap: 6.7, padding: [5, 6, 5, 3], textStyle: Object.assign({}, legendBase.textStyle, {padding: [0,0,0,2]})})
  ]
};
const chart = echarts.init(document.getElementById('c'), null, {renderer: 'canvas'});
chart.setOption(option);
</script></body></html>
